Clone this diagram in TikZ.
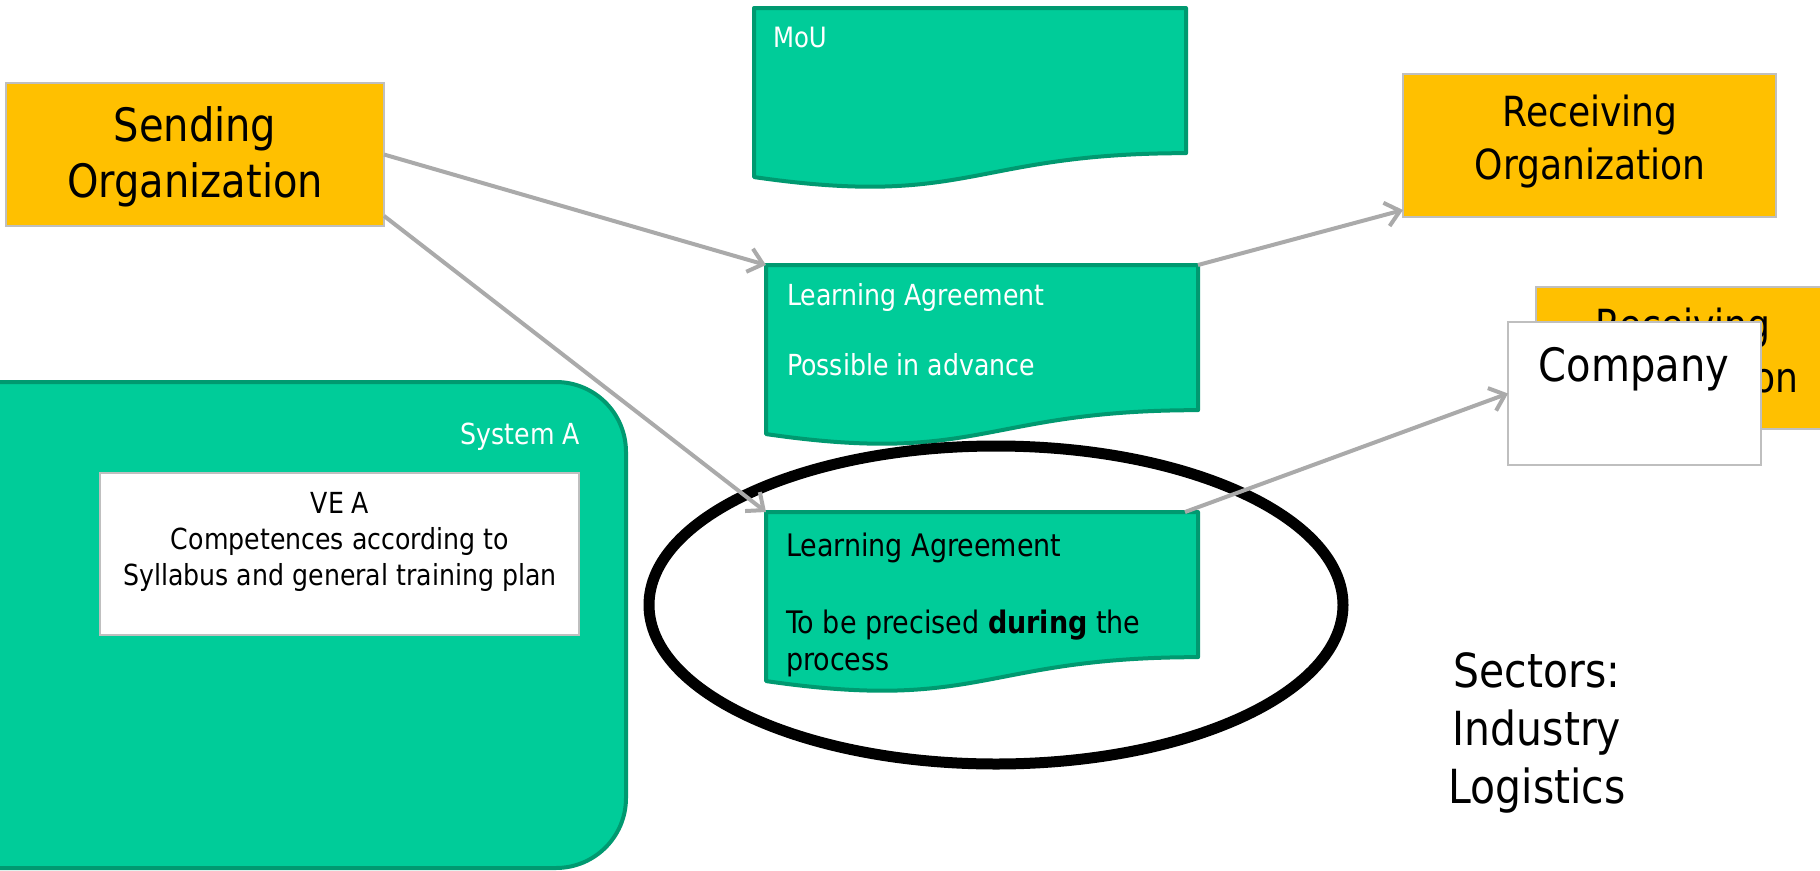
\documentclass[tikz,border=0pt]{standalone}
\usepackage{fontspec}
\setmainfont[FakeStretch=0.87]{DejaVu Sans}
\usetikzlibrary{arrows.meta,calc,shapes.geometric}
\definecolor{tealf}{RGB}{0,204,153}
\definecolor{tealdk}{RGB}{0,153,112}
\definecolor{orgyel}{RGB}{255,192,0}
\definecolor{boxgray}{RGB}{191,191,191}
\definecolor{arrgray}{RGB}{170,170,170}
\pgfdeclarelayer{back}
\pgfdeclarelayer{bg}
\pgfsetlayers{back,bg,main}
\newcommand\fsz[2]{\fontsize{#1}{#2}\selectfont}
\newcommand\docshape[1]{%
  \begin{pgfonlayer}{bg}
  \path[docline] (#1.north west) -- (#1.north east)
    -- ($(#1.north east)!0.802!(#1.south east)$)
    .. controls ($(#1.north)!0.802!(#1.south)$) and ($(#1.north)!1.1075!(#1.south)$)
    .. ($(#1.north west)!0.934!(#1.south west)$) -- cycle;
  \end{pgfonlayer}}
\tikzset{
  orgbox/.style={draw=boxgray, line width=2.5pt, fill=orgyel, inner sep=0pt, outer sep=0pt, anchor=north west},
  whitebox/.style={draw=boxgray, line width=2.5pt, fill=white, inner sep=0pt, outer sep=0pt, anchor=north west},
  docnode/.style={anchor=north west, minimum width=432pt, minimum height=181pt, inner sep=0pt, outer sep=0pt},
  docline/.style={draw=tealdk, fill=tealf, line width=4pt, line join=round},
  lbl/.style={inner sep=0pt, outer sep=0pt, align=center},
  conn/.style={draw=arrgray, line width=4pt, -{Straight Barb[length=14pt,width=24pt]}},
}
\begin{document}
\begin{tikzpicture}[x=1pt,y=-1pt]
\useasboundingbox (0,0) rectangle (1820,870);
\clip (0,0) rectangle (1820,870);
\begin{pgfonlayer}{back}
\fill[white] (0,0) rectangle (1820,870);
\end{pgfonlayer}

% System A
\node[draw=tealdk, fill=tealf, line width=4pt, rounded corners=70pt, minimum width=704pt, minimum height=486pt, anchor=north west, inner sep=0pt] (sysA) at (-80,380) {};
\node[lbl, anchor=north east, text=white, font=\fsz{29}{35}] (sysAt) at (580,423) {System A};
\node[whitebox, minimum width=479pt, minimum height=162pt] (vea) at (100,473) {};
\node[lbl, anchor=north, font=\fsz{29}{36}] (veat) at (340,492) {VE A\\Competences according to\\Syllabus and general training plan};

% Sending organization
\node[orgbox, minimum width=378pt, minimum height=143pt] (send) at (6,83) {};
\node[lbl, anchor=north, font=\fsz{46}{56}] (sendt) at (195,107) {Sending\\Organization};

% Receiving organization
\node[orgbox, minimum width=373pt, minimum height=143pt] (recv) at (1403,74) {};
\node[lbl, anchor=north, font=\fsz{41.5}{53}] (recvt) at (1590,95) {Receiving\\Organization};

\node[orgbox, minimum width=300pt, minimum height=142pt] (recv2) at (1536,287) {};
\node[lbl, anchor=north, font=\fsz{41.5}{53}] (recv2t) at (1683,308) {Receiving\\Organization};

\node[whitebox, minimum width=253pt, minimum height=143pt] (comp) at (1508,322) {};
\node[lbl, anchor=north, font=\fsz{46}{55}] (compt) at (1634,347) {Company};

% Documents
\node[docnode] (mou) at (754,8) {};
\docshape{mou}
\node[lbl, anchor=north west, text=white, font=\fsz{28}{34}] (mout) at (773,27) {MoU};

\node[docnode] (la1) at (766,265) {};
\docshape{la1}
\node[lbl, align=left, anchor=north west, text=white, font=\fsz{29}{35}] (la1t) at (787,283) {Learning Agreement\\[35pt]Possible in advance};

\node[docnode] (la2) at (766,512) {};
\docshape{la2}
\node[lbl, align=left, anchor=north west, text=black, font=\fsz{31}{37}] (la2t) at (786,533) {Learning Agreement\\[40pt]To be precised \textbf{during} the\\process};

% Highlight ellipse
\node[draw=black, line width=11pt, ellipse, minimum width=694pt, minimum height=318pt, inner sep=0pt] (ell) at (996,605) {};

% Sectors
\node[lbl, anchor=north, font=\fsz{47}{58}] (sect) at (1537,653) {Sectors:\\Industry\\Logistics};

% Connectors
\draw[conn] (send.east) -- (la1.north west);
\draw[conn] (send.-18.6) -- (la2.north west);
\draw[conn] (la1.north east) -- ($(recv.south west)+(0,-7)$);
\draw[conn] ($(la2.north east)+(-13,0)$) -- (comp.west);
\end{tikzpicture}
\end{document}
